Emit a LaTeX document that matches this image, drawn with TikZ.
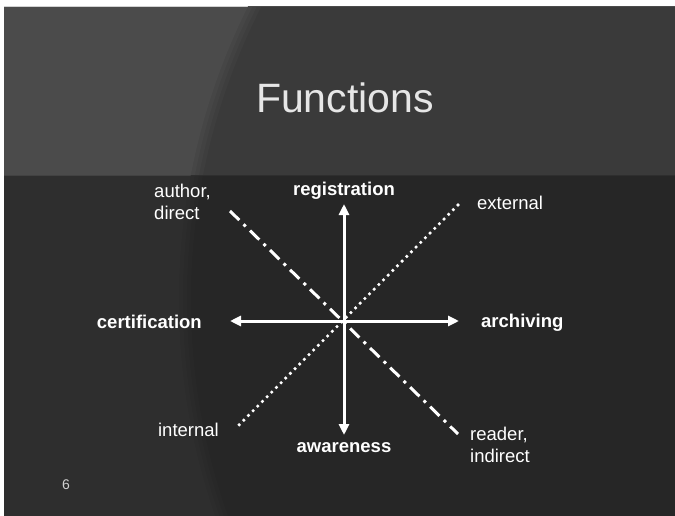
\documentclass[tikz,border=0pt]{standalone}
\usepackage{fontspec}
\setmainfont{Liberation Sans}
\usepackage{tikz}
\usetikzlibrary{arrows.meta, positioning}
\definecolor{slidetop}{HTML}{3A3A3A}
\definecolor{slidebottom}{HTML}{262626}
\definecolor{rimtop}{HTML}{4B4B4B}
\definecolor{rimbottom}{HTML}{2E2E2E}
\definecolor{titlegray}{HTML}{E6E6E6}
\definecolor{pagegray}{HTML}{D0D0D0}

\begin{document}
\begin{tikzpicture}[
    x=1pt, y=-1pt,
    axis/.style={
        {Triangle[length=11pt,width=10pt]}-{Triangle[length=11pt,width=10pt]},
        line width=3pt,
        white
    },
    dashdot/.style={
        line width=3pt,
        white,
        dash pattern=on 13pt off 6pt on 3pt off 6pt
    },
    dotline/.style={
        line width=3.6pt,
        white,
        line cap=round,
        dash pattern=on 0pt off 6.6pt
    },
    func/.style={
        inner sep=0pt,
        text=white,
        font=\fontsize{18.5}{22}\selectfont\bfseries
    },
    side/.style={
        inner sep=0pt,
        text=white,
        align=left,
        font=\fontsize{18.5}{22}\selectfont
    }
]
\useasboundingbox (0,0) rectangle (675,516);
\fill[white] (0,0) rectangle (675,516);
\fill[slidebottom] (4,7) rectangle (675,516);
\fill[slidetop] (4,7) rectangle (675,176);

\begin{scope}
    \clip (4,7) rectangle (675,176);
    \foreach \r/\o in {-6/0.25,-2/0.35,2/0.5,6/1}
        \fill[rimtop, opacity=\o, even odd rule] (4,7) rectangle (675,176) (837,300) circle (652pt+\r pt);
\end{scope}
\begin{scope}
    \clip (4,176) rectangle (675,516);
    \foreach \r/\o in {-6/0.25,-2/0.35,2/0.5,6/1}
        \fill[rimbottom, opacity=\o, even odd rule] (4,176) rectangle (675,516) (837,300) circle (652pt+\r pt);
\end{scope}

\node[text=titlegray, font=\fontsize{41}{48}\selectfont] (title) at (345,98) {Functions};

\coordinate (top) at (344,204);
\coordinate (bottom) at (344,435);
\coordinate (left) at (230,321);
\coordinate (right) at (459,321);
\coordinate (dtl) at (230,211);
\coordinate (dbr) at (458,434);
\coordinate (otr) at (458,205);
\coordinate (obl) at (236,428);

\draw[dashdot] (dtl) -- (dbr);
\draw[dotline] (otr) -- (obl);
\draw[axis] (top) -- (bottom);
\draw[axis] (left) -- (right);

\node[func, above=4pt of top] (registration) {registration};
\node[func, below=7pt of bottom] (awareness) {awareness};
\node[func, left=28pt of left, yshift=-1pt] (certification) {certification};
\node[func, right=22pt of right, yshift=-2pt] (archiving) {archiving};

\node[side, left=19pt of dtl, yshift=9pt] (author) {author,\\direct};
\node[side, right=12pt of dbr, yshift=-11pt] (reader) {reader,\\indirect};
\node[side, right=19pt of otr, yshift=2pt] (external) {external};
\node[side, left=17pt of obl, yshift=-2pt] (internal) {internal};

\node[text=pagegray, font=\fontsize{14}{16}\selectfont] (page) at (66,485) {6};
\end{tikzpicture}
\end{document}
